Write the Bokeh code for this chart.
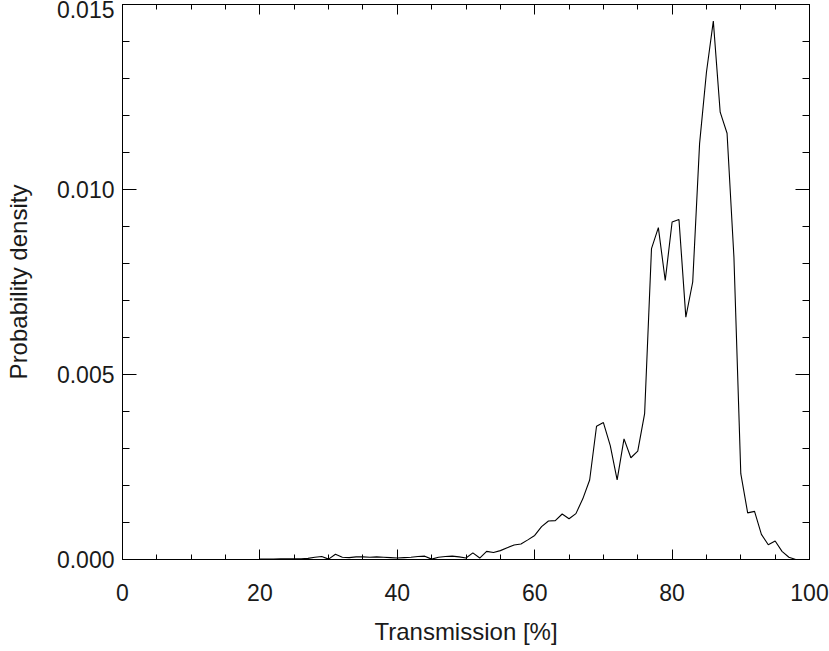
from bokeh.plotting import figure
from bokeh.models import Range1d, LinearAxis, FixedTicker, PrintfTickFormatter
from bokeh.embed import file_html
from bokeh.resources import INLINE

# Data: transmission (%) and probability density
transmission = list(range(20, 101))
density = [
    0.00001, 0.00001, 0.00001, 0.00002, 0.00002, 0.00002, 0.00002, 0.00003, 0.00006, 0.00008,  # 20-29
    0.00001, 0.00014, 0.00006, 0.00005, 0.00007, 0.00007, 0.00006, 0.00007, 0.00006, 0.00005,  # 30-39
    0.00004, 0.00005, 0.00006, 0.00008, 0.00009, 0.00001, 0.00006, 0.00008, 0.00009, 0.00007,  # 40-49
    0.00004, 0.00018, 0.00004, 0.00022, 0.00019, 0.00024, 0.00032, 0.00039, 0.00042, 0.00053,  # 50-59
    0.00065, 0.00089, 0.00104, 0.00105, 0.00123, 0.00110, 0.00124, 0.00164, 0.00215, 0.00360,  # 60-69
    0.00370, 0.00308, 0.00215, 0.00326, 0.00275, 0.00293, 0.00394, 0.00840, 0.00897, 0.00754,  # 70-79
    0.00912, 0.00919, 0.00655, 0.00750, 0.01124, 0.01317, 0.01455, 0.01209, 0.01152, 0.00817,  # 80-89
    0.00232, 0.00126, 0.00130, 0.00068, 0.00040, 0.00050, 0.00022, 0.00006, 0.00000, 0.00000,  # 90-99
    0.00000,                                                                                   # 100
]

x_major = [0, 20, 40, 60, 80, 100]
x_minor = [v for v in range(0, 101, 5) if v % 20 != 0]
y_major = [0.0, 0.005, 0.010, 0.015]
y_minor = [round(i * 0.001, 3) for i in range(0, 16) if i % 5 != 0]

x_label = "Transmission [%]"
y_label = "Probability density"

FONT = "Liberation Sans"
TICK_SIZE = "23px"
LABEL_SIZE = "24px"
TEXT_COLOR = "#1a1a1a"

p = figure(width=829, height=651, output_backend="svg", toolbar_location=None,
           x_range=Range1d(0, 100), y_range=Range1d(0, 0.015),
           min_border_left=122, min_border_right=20, min_border_top=4, min_border_bottom=92,
           x_axis_location=None, y_axis_location=None)
p.grid.visible = False
p.outline_line_color = "black"
p.outline_line_width = 1
p.background_fill_color = "white"
p.border_fill_color = "white"

p.line(transmission, density, line_color="black", line_width=1.1)


def style_axis(ax, ticks, minor, tick_in, minor_in, show_labels):
    ax.ticker = FixedTicker(ticks=ticks, minor_ticks=minor)
    ax.major_tick_in = tick_in
    ax.major_tick_out = 0
    ax.minor_tick_in = minor_in
    ax.minor_tick_out = 0
    ax.axis_line_color = "black"
    ax.major_tick_line_color = "black"
    ax.minor_tick_line_color = "black"
    ax.major_label_text_font = FONT
    ax.major_label_text_font_size = TICK_SIZE
    ax.major_label_text_color = TEXT_COLOR
    ax.axis_label_text_font = FONT
    ax.axis_label_text_font_size = LABEL_SIZE
    ax.axis_label_text_font_style = "normal"
    ax.axis_label_text_color = TEXT_COLOR
    if not show_labels:
        ax.major_label_overrides = {t: "" for t in ticks}
        ax.major_label_standoff = 0


xb = LinearAxis(axis_label=x_label)
style_axis(xb, x_major, x_minor, 10, 5, True)
xb.major_label_standoff = 24
xb.axis_label_standoff = 14
p.add_layout(xb, "below")

xt = LinearAxis()
style_axis(xt, x_major, x_minor, 10, 5, False)
p.add_layout(xt, "above")

yl = LinearAxis(axis_label=y_label)
style_axis(yl, y_major, y_minor, 14, 7, True)
yl.formatter = PrintfTickFormatter(format="%.3f")
yl.major_label_standoff = 8
yl.axis_label_standoff = 22
p.add_layout(yl, "left")

yr = LinearAxis()
style_axis(yr, y_major, y_minor, 14, 7, False)
p.add_layout(yr, "right")

open("out.html", "w").write(file_html(p, INLINE))
